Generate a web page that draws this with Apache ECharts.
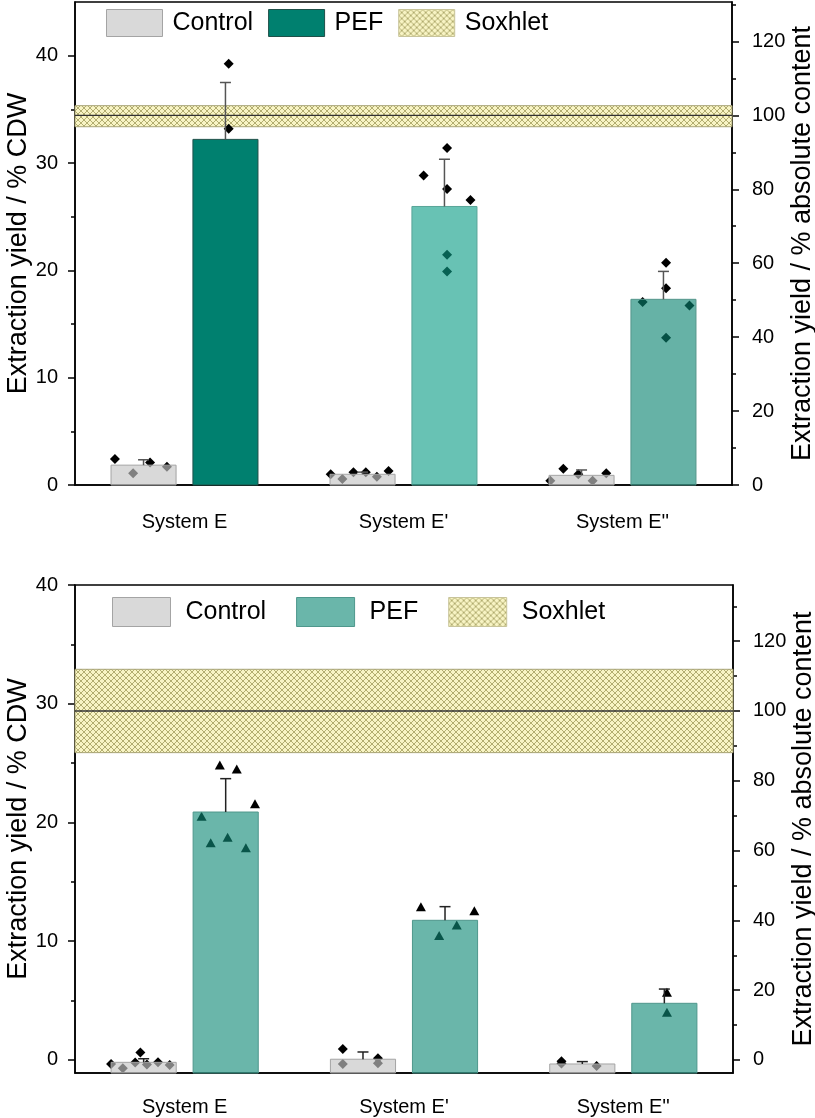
<!DOCTYPE html>
<html><head><meta charset="utf-8">
<script src="https://cdn.jsdelivr.net/npm/echarts@6/dist/echarts.min.js"></script>
<style>html,body{margin:0;padding:0;background:#fff}#c{width:815px;height:1118px}</style>
</head><body><div id="c"></div>
<script>
// ---------------- DATA ----------------
const categories = ['System E', "System E'", "System E''"];
const legendNames = ['Control', 'PEF', 'Soxhlet'];

// Top chart (% CDW)
const topControlMean = [1.85, 1.0, 0.9];
const topControlErr  = [0.5, 0.2, 0.5];
const topPefMean     = [32.2, 25.95, 17.3];
const topPefErr      = [5.3, 4.4, 2.6];
const topControlPoints = [[2.42, 1.1, 2.1, 1.7], [1.0, 0.55, 1.18, 1.18, 0.78, 1.3], [0.4, 1.52, 1.0, 0.4, 1.09]];
const topControlJitter = [[-0.44, -0.16, 0.10, 0.36], [-0.49, -0.31, -0.14, 0.05, 0.22, 0.40], [-0.48, -0.28, -0.05, 0.17, 0.38]];
const topPefPoints = [[39.25, 33.2], [31.39, 28.84, 27.57, 26.55, 21.45, 19.89], [20.7, 18.34, 17.06, 16.72, 13.73]];
const topPefJitter = [[0.05, 0.05], [0.04, -0.32, 0.04, 0.40, 0.04, 0.04], [0.04, 0.04, -0.32, 0.40, 0.04]];
const topSoxhlet = [33.38, 34.44, 35.34];   // low, centre, high in % CDW (centre = 100 % absolute content)
const topLeftRange = [0, 45];
const topLeftTicks = [0, 10, 20, 30, 40];
const topLeftMinor = [5, 15, 25, 35];
const topRightTicks = [0, 20, 40, 60, 80, 100, 120];
const topRightMinor = [10, 30, 50, 70, 90, 110, 130];

// Bottom chart (% CDW)
const botControlMean = [-0.2, 0.06, -0.34];
const botControlErr  = [0.3, 0.61, 0.2];
const botPefMean     = [20.88, 11.76, 4.77];
const botPefErr      = [2.81, 1.15, 1.2];
const botControlPoints = [[-0.34, -0.7, -0.22, 0.62, -0.39, -0.2, -0.42], [0.93, -0.34, 0.14, -0.28], [-0.11, -0.3, -0.5]];
const botControlJitter = [[-0.50, -0.32, -0.13, -0.05, 0.05, 0.22, 0.40], [-0.31, -0.31, 0.23, 0.23], [-0.32, -0.32, 0.22]];
const botPefPoints = [[24.84, 24.5, 21.58, 20.52, 18.75, 18.3, 17.88], [12.9, 12.57, 11.37, 10.47], [5.7, 4.02]];
const botPefJitter = [[-0.09, 0.17, 0.45, -0.37, 0.03, -0.23, 0.31], [-0.37, 0.45, 0.18, -0.09], [0.04, 0.04]];
const botSoxhlet = [25.88, 29.39, 32.9];
const botLeftRange = [-1.1, 40];
const botLeftTicks = [0, 10, 20, 30, 40];
const botLeftMinor = [5, 15, 25, 35];
const botRightTicks = [0, 20, 40, 60, 80, 100, 120];
const botRightMinor = [10, 30, 50, 70, 90, 110, 130];

// ---------------- STYLE ----------------
const FONT = 'Liberation Sans, Arial, sans-serif';
const GROUP_OFF = 0.187;   // bar offset from category centre (category units)
const BAR_W = 0.297;       // bar width (category units)
const controlFill = 'rgba(197,197,197,0.65)';
const controlBorder = '#a4a4a4';
const topPefFill = ['#00806F', 'rgba(12,157,134,0.62)', 'rgba(8,131,111,0.62)'];
const topPefBorder = ['#1f5049', '#58a498', '#55968b'];
const botPefFill = ['rgba(14,137,118,0.62)', 'rgba(14,137,118,0.62)', 'rgba(14,137,118,0.62)'];
const botPefBorder = ['#4f978c', '#4f978c', '#4f978c'];

function makeHatch() {
  const c = document.createElement('canvas');
  const s = 6;
  c.width = s; c.height = s;
  const g = c.getContext('2d');
  g.fillStyle = '#f8f4c4';
  g.fillRect(0, 0, s, s);
  g.strokeStyle = 'rgba(150,145,80,0.8)';
  g.lineWidth = 0.9;
  g.beginPath();
  g.moveTo(0, 0); g.lineTo(s, s);
  g.moveTo(s, 0); g.lineTo(0, s);
  g.stroke();
  return { image: c, repeat: 'repeat' };
}
const hatch = makeHatch();

// ---------------- BUILD ----------------
function barSeries(name, gi, means, offset, fills, borders, yMin) {
  return {
    type: 'custom', name, xAxisIndex: gi * 2 + 1, yAxisIndex: gi * 4, z: 3,
    itemStyle: { color: fills[0], borderColor: borders[0] },
    data: means.map((m, i) => [i + 0.5 + offset, m]),
    renderItem: (params, api) => {
      const x = api.value(0), v = api.value(1);
      const p1 = api.coord([x - BAR_W / 2, v]);
      const p2 = api.coord([x + BAR_W / 2, yMin]);
      return { type: 'rect', shape: { x: p1[0], y: p1[1], width: p2[0] - p1[0], height: p2[1] - p1[1] },
        style: { fill: fills[params.dataIndex], stroke: borders[params.dataIndex], lineWidth: 1 } };
    }
  };
}
function errSeries(name, gi, means, errs, offset, color) {
  return {
    type: 'custom', name, xAxisIndex: gi * 2 + 1, yAxisIndex: gi * 4, z: 4, silent: true,
    data: means.map((m, i) => [i + 0.5 + offset, m, errs[i]]),
    renderItem: (params, api) => {
      const x = api.value(0), v = api.value(1), e = api.value(2);
      const t = api.coord([x, v + e]), b = api.coord([x, v]);
      const st = { stroke: color, lineWidth: 1.5 };
      return { type: 'group', children: [
        { type: 'line', shape: { x1: t[0], y1: t[1], x2: b[0], y2: b[1] }, style: st },
        { type: 'line', shape: { x1: t[0] - 5.5, y1: t[1], x2: t[0] + 5.5, y2: t[1] }, style: st }
      ] };
    }
  };
}
function pointSeries(name, gi, points, jitter, offset, symbol, size) {
  const data = [];
  points.forEach((arr, i) => arr.forEach((v, k) => data.push([i + 0.5 + offset + jitter[i][k] * BAR_W, v])));
  return { type: 'scatter', name, xAxisIndex: gi * 2 + 1, yAxisIndex: gi * 4, z: 2, silent: true,
    symbol, symbolSize: size, itemStyle: { color: '#000', opacity: 1 }, data };
}
function soxSeries(gi, sox) {
  return {
    type: 'custom', name: 'Soxhlet', xAxisIndex: gi * 2 + 1, yAxisIndex: gi * 4, z: 1, silent: true,
    itemStyle: { color: hatch, borderColor: '#a8a476' },
    data: [[0, sox[0], sox[1], sox[2]]],
    renderItem: (params, api) => {
      const lo = api.value(1), mid = api.value(2), hi = api.value(3);
      const a = api.coord([0, hi]), b = api.coord([3, lo]);
      const m1 = api.coord([0, mid]), m2 = api.coord([3, mid]);
      return { type: 'group', children: [
        { type: 'rect', shape: { x: a[0], y: a[1], width: b[0] - a[0], height: b[1] - a[1] },
          style: { fill: hatch, stroke: '#a8a476', lineWidth: 1 } },
        { type: 'line', shape: { x1: m1[0], y1: m1[1], x2: m2[0], y2: m2[1] }, style: { stroke: '#333', lineWidth: 1.3 } }
      ] };
    }
  };
}
function yMain(gi, position, range, ticks, name, nameGap, margin) {
  return {
    type: 'value', gridIndex: gi, position, min: range[0], max: range[1],
    axisLine: { show: true, onZero: false, lineStyle: { color: '#000', width: 1.5 } },
    axisTick: { show: true, customValues: ticks, length: 7, lineStyle: { color: '#000', width: 1.5 } },
    axisLabel: { show: true, customValues: ticks, fontSize: 20, color: '#000', fontFamily: FONT, margin },
    splitLine: { show: false },
    name, nameLocation: 'middle', nameGap, nameMoveOverlap: false,
    nameTextStyle: { fontSize: 27, color: '#000', fontFamily: FONT }
  };
}
function yMinor(gi, position, range, ticks) {
  return {
    type: 'value', gridIndex: gi, position, min: range[0], max: range[1],
    axisLine: { show: false }, axisLabel: { show: false }, splitLine: { show: false },
    axisTick: { show: true, customValues: ticks, length: 4, lineStyle: { color: '#000', width: 1.5 } }
  };
}
function xCat(gi, margin) {
  return {
    type: 'category', gridIndex: gi, data: categories, boundaryGap: true, position: 'bottom',
    axisLine: { onZero: false, lineStyle: { color: '#000', width: 1.5 } },
    axisTick: { alignWithLabel: true, length: 9, lineStyle: { color: '#000', width: 1.5 } },
    axisLabel: { fontSize: 20, color: '#000', fontFamily: FONT, margin }
  };
}
function xVal(gi) {
  return { type: 'value', gridIndex: gi, min: 0, max: 3, show: false };
}

const topRightRange = [0, topLeftRange[1] / topSoxhlet[1] * 100];
const botRightRange = [botLeftRange[0] / botSoxhlet[1] * 100, botLeftRange[1] / botSoxhlet[1] * 100];

function legendCfg(top, left, w, h, gap, pad, pefColor, pefBorder) {
  return {
    top, left, padding: 0, itemWidth: w, itemHeight: h, itemGap: gap, icon: 'rect', selectedMode: false,
    textStyle: { fontSize: 25, color: '#000', fontFamily: FONT, padding: [0, 0, 0, pad] },
    data: [
      { name: legendNames[0], itemStyle: { color: '#D9D9D9', borderColor: '#a4a4a4', borderWidth: 1 } },
      { name: legendNames[1], itemStyle: { color: pefColor, borderColor: pefBorder, borderWidth: 1 } },
      { name: legendNames[2], itemStyle: { color: hatch, borderColor: '#c8c49a', borderWidth: 1 } }
    ]
  };
}

const option = {
  animation: false,
  backgroundColor: '#fff',
  grid: [
    { left: 75, right: 83, top: 2, height: 483, show: true, borderColor: '#000', borderWidth: 1.5, containLabel: false, outerBoundsMode: 'none' },
    { left: 75, right: 82, top: 585, height: 488, show: true, borderColor: '#000', borderWidth: 1.5, containLabel: false, outerBoundsMode: 'none' }
  ],
  legend: [
    legendCfg(9, 106, 56, 27, 15, 5, '#00806F', '#1f5049'),
    legendCfg(597, 112, 58, 29, 30, 10, '#6AB6AA', '#4f978c')
  ],
  xAxis: [xCat(0, 27), xVal(0), xCat(1, 24), xVal(1)],
  yAxis: [
    yMain(0, 'left', topLeftRange, topLeftTicks, 'Extraction yield / % CDW', 43, 17),
    yMain(0, 'right', topRightRange, topRightTicks, 'Extraction yield / % absolute content', 57, 20),
    yMinor(0, 'left', topLeftRange, topLeftMinor),
    yMinor(0, 'right', topRightRange, topRightMinor),
    yMain(1, 'left', botLeftRange, botLeftTicks, 'Extraction yield / % CDW', 43, 17),
    yMain(1, 'right', botRightRange, botRightTicks, 'Extraction yield / % absolute content', 57, 20),
    yMinor(1, 'left', botLeftRange, botLeftMinor),
    yMinor(1, 'right', botRightRange, botRightMinor)
  ],
  series: [
    soxSeries(0, topSoxhlet),
    pointSeries('Control pts', 0, topControlPoints, topControlJitter, -GROUP_OFF, 'diamond', 10),
    pointSeries('PEF pts', 0, topPefPoints, topPefJitter, GROUP_OFF, 'diamond', 10),
    barSeries('Control', 0, topControlMean, -GROUP_OFF, [controlFill, controlFill, controlFill], [controlBorder, controlBorder, controlBorder], topLeftRange[0]),
    barSeries('PEF', 0, topPefMean, GROUP_OFF, topPefFill, topPefBorder, topLeftRange[0]),
    errSeries('Control err', 0, topControlMean, topControlErr, -GROUP_OFF, '#555'),
    errSeries('PEF err', 0, topPefMean, topPefErr, GROUP_OFF, '#555'),

    soxSeries(1, botSoxhlet),
    pointSeries('Control pts b', 1, botControlPoints, botControlJitter, -GROUP_OFF, 'diamond', 10),
    pointSeries('PEF pts b', 1, botPefPoints, botPefJitter, GROUP_OFF, 'triangle', [10, 9]),
    barSeries('Control', 1, botControlMean, -GROUP_OFF, [controlFill, controlFill, controlFill], [controlBorder, controlBorder, controlBorder], botLeftRange[0]),
    barSeries('PEF', 1, botPefMean, GROUP_OFF, botPefFill, botPefBorder, botLeftRange[0]),
    errSeries('Control err b', 1, botControlMean, botControlErr, -GROUP_OFF, '#222'),
    errSeries('PEF err b', 1, botPefMean, botPefErr, GROUP_OFF, '#222')
  ]
};
const chart = echarts.init(document.getElementById('c'), null, { renderer: 'canvas' });
chart.setOption(option);
</script>
</body></html>
